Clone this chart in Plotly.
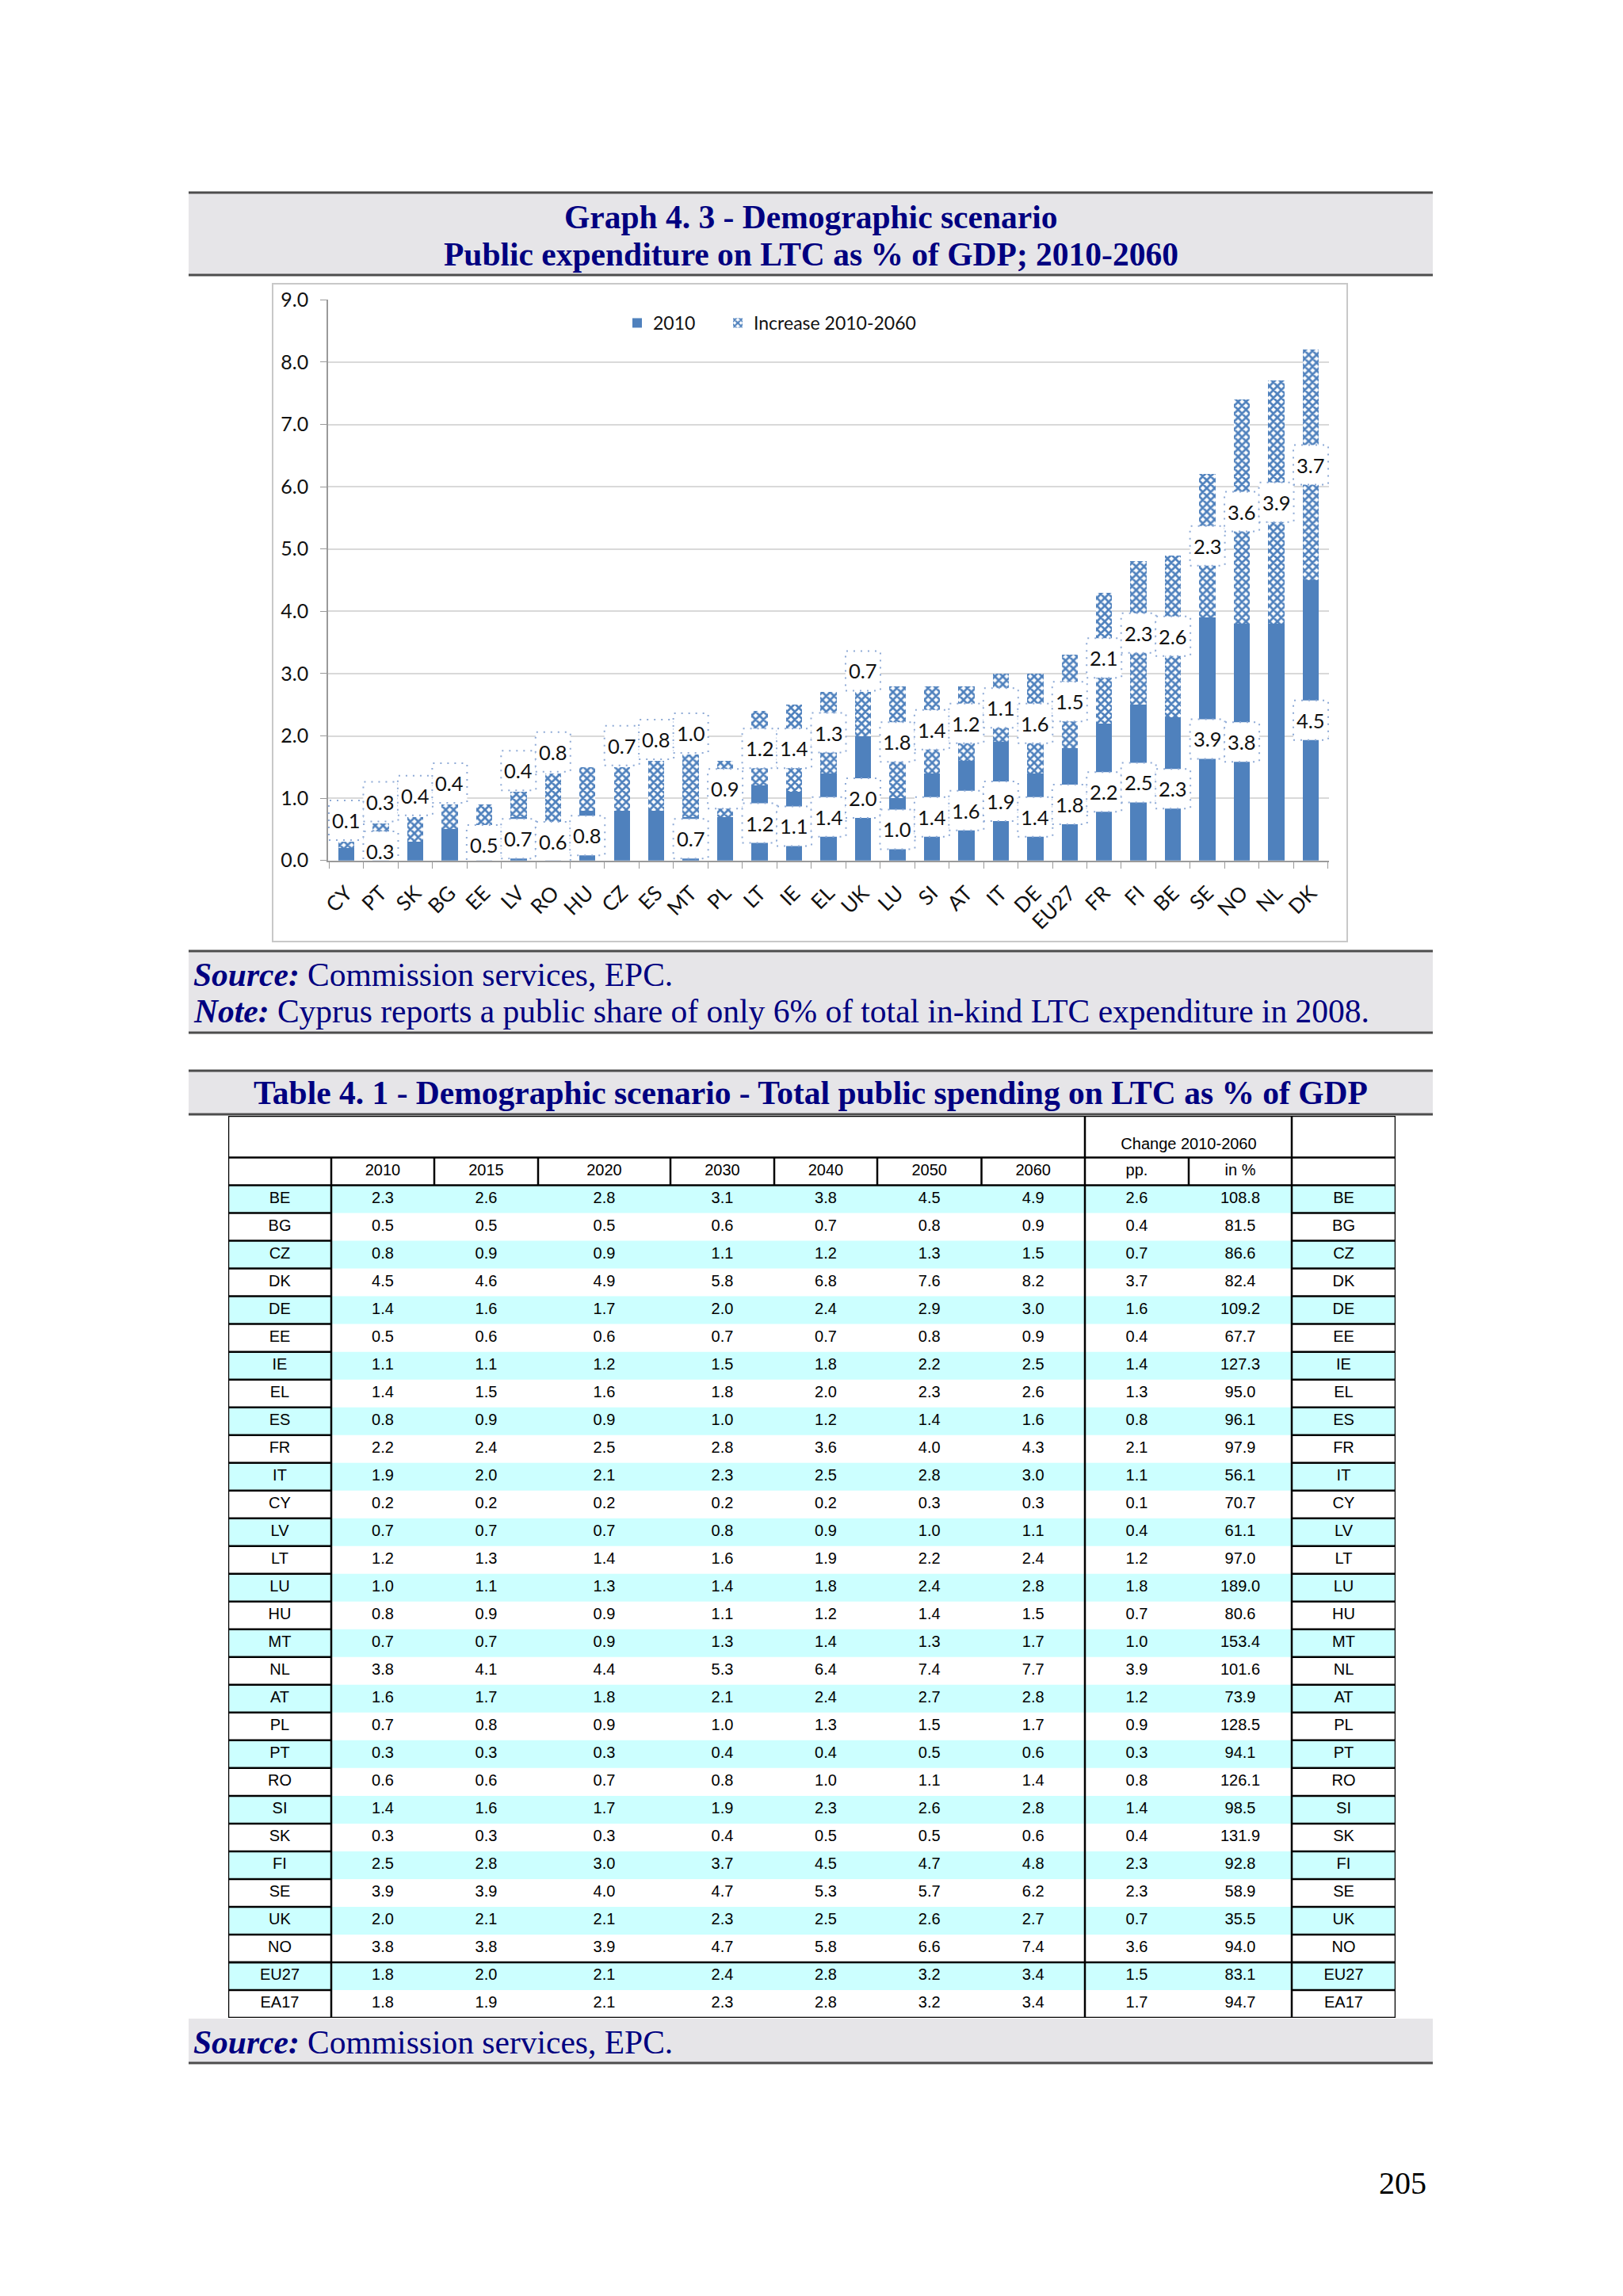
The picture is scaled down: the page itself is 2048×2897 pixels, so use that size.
import plotly.graph_objects as go

W, H = 2048, 2897
OFF = 8  # page body margin of the html page

# ---------------- data (Table 4.1) ----------------
countries = ["BE", "BG", "CZ", "DK", "DE", "EE", "IE", "EL", "ES", "FR", "IT", "CY", "LV", "LT", "LU",
             "HU", "MT", "NL", "AT", "PL", "PT", "RO", "SI", "SK", "FI", "SE", "UK", "NO", "EU27", "EA17"]
v2010 = [2.3, 0.5, 0.8, 4.5, 1.4, 0.5, 1.1, 1.4, 0.8, 2.2, 1.9, 0.2, 0.7, 1.2, 1.0,
         0.8, 0.7, 3.8, 1.6, 0.7, 0.3, 0.6, 1.4, 0.3, 2.5, 3.9, 2.0, 3.8, 1.8, 1.8]
v2015 = [2.6, 0.5, 0.9, 4.6, 1.6, 0.6, 1.1, 1.5, 0.9, 2.4, 2.0, 0.2, 0.7, 1.3, 1.1,
         0.9, 0.7, 4.1, 1.7, 0.8, 0.3, 0.6, 1.6, 0.3, 2.8, 3.9, 2.1, 3.8, 2.0, 1.9]
v2020 = [2.8, 0.5, 0.9, 4.9, 1.7, 0.6, 1.2, 1.6, 0.9, 2.5, 2.1, 0.2, 0.7, 1.4, 1.3,
         0.9, 0.9, 4.4, 1.8, 0.9, 0.3, 0.7, 1.7, 0.3, 3.0, 4.0, 2.1, 3.9, 2.1, 2.1]
v2030 = [3.1, 0.6, 1.1, 5.8, 2.0, 0.7, 1.5, 1.8, 1.0, 2.8, 2.3, 0.2, 0.8, 1.6, 1.4,
         1.1, 1.3, 5.3, 2.1, 1.0, 0.4, 0.8, 1.9, 0.4, 3.7, 4.7, 2.3, 4.7, 2.4, 2.3]
v2040 = [3.8, 0.7, 1.2, 6.8, 2.4, 0.7, 1.8, 2.0, 1.2, 3.6, 2.5, 0.2, 0.9, 1.9, 1.8,
         1.2, 1.4, 6.4, 2.4, 1.3, 0.4, 1.0, 2.3, 0.5, 4.5, 5.3, 2.5, 5.8, 2.8, 2.8]
v2050 = [4.5, 0.8, 1.3, 7.6, 2.9, 0.8, 2.2, 2.3, 1.4, 4.0, 2.8, 0.3, 1.0, 2.2, 2.4,
         1.4, 1.3, 7.4, 2.7, 1.5, 0.5, 1.1, 2.6, 0.5, 4.7, 5.7, 2.6, 6.6, 3.2, 3.2]
v2060 = [4.9, 0.9, 1.5, 8.2, 3.0, 0.9, 2.5, 2.6, 1.6, 4.3, 3.0, 0.3, 1.1, 2.4, 2.8,
         1.5, 1.7, 7.7, 2.8, 1.7, 0.6, 1.4, 2.8, 0.6, 4.8, 6.2, 2.7, 7.4, 3.4, 3.4]
change_pp = [2.6, 0.4, 0.7, 3.7, 1.6, 0.4, 1.4, 1.3, 0.8, 2.1, 1.1, 0.1, 0.4, 1.2, 1.8,
             0.7, 1.0, 3.9, 1.2, 0.9, 0.3, 0.8, 1.4, 0.4, 2.3, 2.3, 0.7, 3.6, 1.5, 1.7]
change_pct = [108.8, 81.5, 86.6, 82.4, 109.2, 67.7, 127.3, 95.0, 96.1, 97.9, 56.1, 70.7, 61.1, 97.0, 189.0,
              80.6, 153.4, 101.6, 73.9, 128.5, 94.1, 126.1, 98.5, 131.9, 92.8, 58.9, 35.5, 94.0, 83.1, 94.7]
year_labels = ["2010", "2015", "2020", "2030", "2040", "2050", "2060"]

# ---------------- data (Graph 4.3) ----------------
chart_order = ["CY", "PT", "SK", "BG", "EE", "LV", "RO", "HU", "CZ", "ES", "MT", "PL", "LT", "IE", "EL",
               "UK", "LU", "SI", "AT", "IT", "DE", "EU27", "FR", "FI", "BE", "SE", "NO", "NL", "DK"]
chart_2010 = [v2010[countries.index(c)] for c in chart_order]
chart_increase = [change_pp[countries.index(c)] for c in chart_order]

# label styling (which labels are shown and where they sit)
hidden_2010_labels = ["CY", "SK", "BG", "CZ", "ES", "PL", "NL"]
increase_label_mode = {"CY": "above", "PT": "above", "SK": "above", "BG": "above", "EE": "none",
                       "LV": "above", "RO": "above", "HU": "none", "CZ": "above", "ES": "above",
                       "MT": "above", "UK": "above"}

# ---------------- styles ----------------
BLUE = "#4f81bd"
NAVY = "#000080"
GRAY_BOX = "#e6e5e8"
SERIF = "Liberation Serif"
CHART_FONT = "Lato"
TABLE_FONT = "Liberation Sans"
TITLE_SIZE = 41.5
TABLE_SIZE = 20


def px(x):
    return (x - OFF) / W


def py(y):
    return 1 - (y - OFF) / H


fig = go.Figure()

# ---------------- bars ----------------
fig.add_trace(go.Bar(
    x=chart_order, y=chart_2010, name="2010", width=0.47,
    marker=dict(color=BLUE, line=dict(width=0)),
    hoverinfo="skip", legend="legend",
))
fig.add_trace(go.Bar(
    x=chart_order, y=chart_increase, name="Increase 2010-2060", width=0.47,
    marker=dict(color="white", line=dict(width=0),
                pattern=dict(shape="x", fgcolor=BLUE, bgcolor="white", size=7, solidity=0.62,
                             fillmode="replace")),
    hoverinfo="skip", legend="legend2",
))

shapes = []
annotations = []

# data labels with white boxes and dotted borders
BOX_W, BOX_H = 22, 25
ABOVE_SHIFT = 27
for i, c in enumerate(chart_order):
    base = chart_2010[i]
    inc = chart_increase[i]
    labels = []
    if c not in hidden_2010_labels:
        labels.append((base / 2, 0, base))
    mode = increase_label_mode.get(c, "center")
    if mode == "center":
        labels.append((base + inc / 2, 0, inc))
    elif mode == "above":
        labels.append((base + inc, ABOVE_SHIFT, inc))
    for yv, shift, val in labels:
        shapes.append(dict(
            type="rect", xref="x", yref="y", xsizemode="pixel", ysizemode="pixel",
            xanchor=i, yanchor=yv, x0=-BOX_W, x1=BOX_W, y0=shift - BOX_H, y1=shift + BOX_H,
            fillcolor="white", line=dict(color="#8eaad6", width=2, dash="2px,7px"), layer="above",
        ))
        annotations.append(dict(
            x=i, y=yv, xref="x", yref="y", text=f"{val:.1f}", showarrow=False,
            xanchor="center", yanchor="middle",
            yshift=shift, font=dict(family=CHART_FONT, size=25.5, color="#111111"),
        ))

# chart frame
shapes.append(dict(type="rect", xref="paper", yref="paper", x0=px(344), x1=px(1700), y0=py(1188), y1=py(358),
                   line=dict(color="#c8c8c8", width=2), fillcolor="rgba(0,0,0,0)", layer="below"))


# ---------------- gray title/source boxes ----------------
def gray_box(top, bottom, top_line=True, bottom_line=True):
    shapes.append(dict(type="rect", xref="paper", yref="paper", x0=px(238), x1=px(1808),
                       y0=py(bottom), y1=py(top), fillcolor=GRAY_BOX, line=dict(width=0), layer="below"))
    if top_line:
        shapes.append(dict(type="line", xref="paper", yref="paper", x0=px(238), x1=px(1808),
                           y0=py(top), y1=py(top), line=dict(color="#4d4d4d", width=3)))
    if bottom_line:
        shapes.append(dict(type="line", xref="paper", yref="paper", x0=px(238), x1=px(1808),
                           y0=py(bottom), y1=py(bottom), line=dict(color="#4d4d4d", width=3)))


gray_box(243, 347)
gray_box(1200, 1303)
gray_box(1351, 1406)
gray_box(2547, 2603, top_line=False)


def page_text(x, y, text, xanchor="center", size=TITLE_SIZE, color=NAVY):
    annotations.append(dict(x=px(x), y=py(y), xref="paper", yref="paper", showarrow=False,
                            xanchor=xanchor, yanchor="middle", text=text,
                            font=dict(family=SERIF, size=size, color=color)))


page_text(1023, 274, "<b>Graph 4. 3 - Demographic scenario</b>")
page_text(1023, 321, "<b>Public expenditure on LTC as % of GDP; 2010-2060</b>")
page_text(242, 1230, "<b><i>Source:</i></b> Commission services, EPC.", xanchor="left")
page_text(242, 1276, "<b><i>Note:</i></b> Cyprus reports a public share of only 6% of total in-kind LTC "
                     "expenditure in 2008.", xanchor="left")
page_text(1023, 1379, "<b>Table 4. 1 - Demographic scenario - Total public spending on LTC as % of GDP</b>")
page_text(242, 2577, "<b><i>Source:</i></b> Commission services, EPC.", xanchor="left")
page_text(1802, 2754, "205", xanchor="right", size=40, color="black")

# ---------------- table ----------------
COL_EDGES = [0, 130, 260, 391, 558, 689, 819, 950.5, 1081, 1212, 1342, 1473]
HDR1, HDR2 = 1.5, 2.5  # bottom of header rows, in row units
n_rows = len(countries)
TOTAL = HDR2 + n_rows
centers = [(COL_EDGES[j] + COL_EDGES[j + 1]) / 2 for j in range(len(COL_EDGES) - 1)]
row_y = [HDR2 + 0.5 + i for i in range(n_rows)]

# row banding
for i in range(n_rows):
    if i % 2 == 0:
        shapes.append(dict(type="rect", xref="x2", yref="y2", x0=COL_EDGES[0], x1=COL_EDGES[-1],
                           y0=HDR2 + i, y1=HDR2 + i + 1, fillcolor="#ccffff", line=dict(width=0), layer="below"))

columns = [countries, v2010, v2015, v2020, v2030, v2040, v2050, v2060, change_pp, change_pct, countries]
for j, col in enumerate(columns):
    txt = [v if isinstance(v, str) else f"{v:.1f}" for v in col]
    fig.add_trace(go.Scatter(
        x=[centers[j]] * n_rows, y=row_y, text=txt, mode="text", xaxis="x2", yaxis="y2",
        textfont=dict(family=TABLE_FONT, size=TABLE_SIZE, color="black"), showlegend=False, hoverinfo="skip",
    ))

header2 = [""] + year_labels + ["pp.", "in %", ""]
fig.add_trace(go.Scatter(
    x=centers, y=[(HDR1 + HDR2) / 2] * len(centers), text=header2, mode="text", xaxis="x2", yaxis="y2",
    textfont=dict(family=TABLE_FONT, size=TABLE_SIZE, color="black"), showlegend=False, hoverinfo="skip",
))
fig.add_trace(go.Scatter(
    x=[COL_EDGES[9]], y=[1.06], text=["Change 2010-2060"], mode="text", xaxis="x2", yaxis="y2",
    textfont=dict(family=TABLE_FONT, size=TABLE_SIZE, color="black"), showlegend=False, hoverinfo="skip",
))

LW = 2.5


def tline(x0, x1, y0, y1):
    shapes.append(dict(type="line", xref="x2", yref="y2", x0=x0, x1=x1, y0=y0, y1=y1,
                       line=dict(color="black", width=LW)))


for yv in [0, HDR1, HDR2, HDR2 + n_rows - 2, TOTAL]:
    tline(COL_EDGES[0], COL_EDGES[-1], yv, yv)
for i in range(1, n_rows):
    tline(COL_EDGES[0], COL_EDGES[1], HDR2 + i, HDR2 + i)
    tline(COL_EDGES[-2], COL_EDGES[-1], HDR2 + i, HDR2 + i)
for xv in [COL_EDGES[0], COL_EDGES[8], COL_EDGES[10], COL_EDGES[11]]:
    tline(xv, xv, 0, TOTAL)
tline(COL_EDGES[1], COL_EDGES[1], HDR1, TOTAL)
for k in [2, 3, 4, 5, 6, 7, 9]:
    tline(COL_EDGES[k], COL_EDGES[k], HDR1, HDR2)

# ---------------- layout ----------------
legend_style = dict(orientation="h", xanchor="left", yanchor="top",
                    font=dict(family=CHART_FONT, size=23, color="#111111"), bgcolor="rgba(0,0,0,0)")
fig.update_layout(
    width=W, height=H, margin=dict(l=0, r=0, t=0, b=0, pad=0, autoexpand=False),
    paper_bgcolor="white", plot_bgcolor="rgba(0,0,0,0)",
    barmode="stack", bargap=0.55,
    shapes=shapes, annotations=annotations,
    legend=dict(x=px(784), y=py(386), **legend_style),
    legend2=dict(x=px(911), y=py(386), **legend_style),
    xaxis=dict(domain=[px(414), px(1677)], type="category", tickangle=-45,
               tickfont=dict(family=CHART_FONT, size=26, color="#111111"),
               ticks="outside", tickson="boundaries", ticklen=9, tickcolor="#9a9a9a",
               ticklabelstandoff=14,
               showline=True, linecolor="#9a9a9a", linewidth=1.5, showgrid=False, anchor="y",
               automargin=False),
    yaxis=dict(domain=[py(1085.7), py(378.3)], range=[0, 9], tickvals=list(range(10)), tickformat=".1f",
               tickfont=dict(family=CHART_FONT, size=25, color="#111111"),
               ticks="outside", ticklen=8, tickcolor="#9a9a9a", ticklabelstandoff=10,
               showline=True, linecolor="#9a9a9a", linewidth=1.5, automargin=False,
               gridcolor="#d9d9d9", gridwidth=1.5, zeroline=False, anchor="x"),
    xaxis2=dict(domain=[px(288), px(1761)], range=[COL_EDGES[0], COL_EDGES[-1]], visible=False, anchor="y2",
                automargin=False),
    yaxis2=dict(domain=[py(2546), py(1408)], range=[TOTAL, 0], visible=False, anchor="x2",
                automargin=False),
)

fig.write_html("out.html")
